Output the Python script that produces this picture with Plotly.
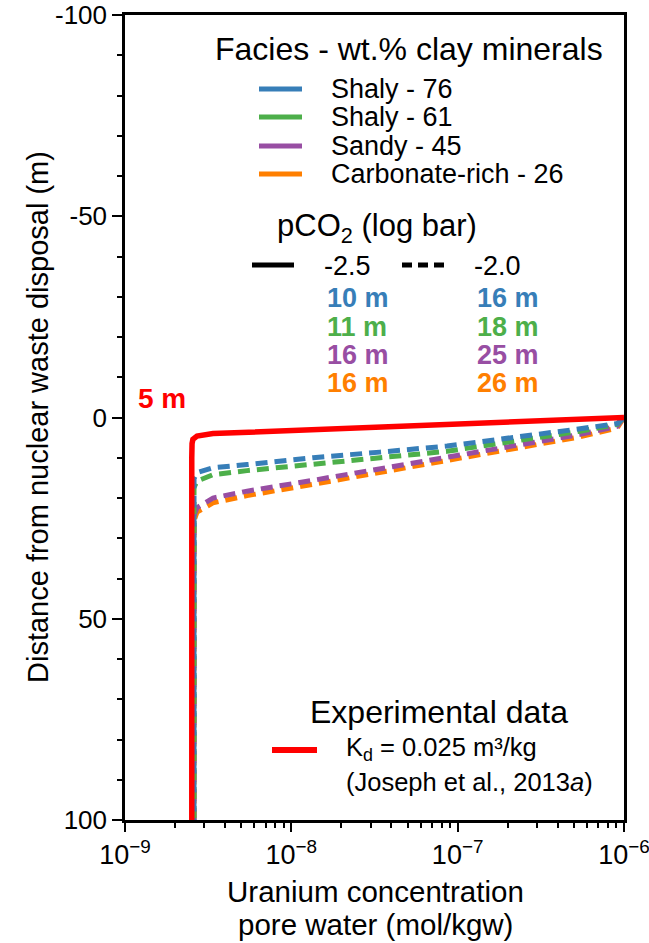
import plotly.graph_objects as go

# ---------------- data ----------------
# Experimental Kd, pCO2 = -2.5 (red solid)
red_conc = [1.0e-6, 5.4e-8, 8.55e-9, 3.38e-9, 2.71e-9, 2.56e-9, 2.53e-9, 2.52e-9, 2.52e-9]
red_depth = [0.0, 2.0, 3.1, 4.0, 4.6, 5.4, 6.5, 10.0, 100.0]

# Facies, pCO2 = -2.0 (dashed)
fac_conc = [1.0e-6, 9.1e-7, 5.45e-7, 2.15e-7, 8.63e-8, 3.41e-8, 1.35e-8, 5.42e-9, 3.38e-9, 2.71e-9, 2.60e-9, 2.60e-9]
blue_depth = [0.0, 1.5, 2.8, 5.0, 7.1, 8.6, 10.0, 11.7, 12.5, 13.7, 15.2, 100.0]
green_depth = [0.0, 1.7, 3.4, 5.9, 8.4, 10.0, 11.5, 13.2, 14.2, 15.8, 17.4, 100.0]
purple_depth = [0.0, 2.2, 4.2, 7.1, 10.0, 12.9, 15.6, 18.3, 20.0, 22.4, 24.4, 100.0]
orange_depth = [0.0, 2.6, 4.8, 7.8, 10.9, 13.9, 16.6, 19.4, 21.2, 23.5, 25.6, 100.0]

facies_names = ["Shaly - 76", "Shaly - 61", "Sandy - 45", "Carbonate-rich - 26"]
facies_colors = ["#377eb8", "#4daf4a", "#984ea3", "#ff7f00"]
dist_low = ["10 m", "11 m", "16 m", "16 m"]     # pCO2 -2.5
dist_high = ["16 m", "18 m", "25 m", "26 m"]    # pCO2 -2.0

x_tickvals = [1e-9, 1e-8, 1e-7, 1e-6]
x_ticktext = ["10<sup>\u22129</sup>", "10<sup>\u22128</sup>", "10<sup>\u22127</sup>", "10<sup>\u22126</sup>"]
x_minor_vals = [m * 10.0 ** e for e in (-9, -8, -7) for m in range(2, 10)]
y_tickvals = [-100, -50, 0, 50, 100]
y_ticktext = ["-100", "-50", "0", "50", "100"]

# ---------------- figure ----------------
W, H = 649, 943
L, R, T, B = 125, 624, 15, 820
FONT = "Liberation Sans, Arial, sans-serif"


def px(x):
    return (x - L) / (R - L)


def py(y):
    return 1 - (y - T) / (B - T)


fig = go.Figure()

dash_depths = [orange_depth, purple_depth, green_depth, blue_depth]
dash_cols = [facies_colors[3], facies_colors[2], facies_colors[1], facies_colors[0]]
for d, c in zip(dash_depths, dash_cols):
    fig.add_trace(go.Scatter(x=fac_conc, y=d, mode="lines",
                             line=dict(color=c, width=5, dash="12px,7px"),
                             showlegend=False, hoverinfo="skip"))

fig.add_trace(go.Scatter(x=red_conc, y=red_depth, mode="lines",
                         line=dict(color="#ff0000", width=5.5),
                         showlegend=False, hoverinfo="skip"))

annotations = []
shapes = []


def text(x, y, s, size, color="black", bold=False, anchor="left", angle=0):
    if bold:
        s = "<b>" + s + "</b>"
    annotations.append(dict(x=px(x), y=py(y), xref="paper", yref="paper", text=s,
                            showarrow=False, xanchor=anchor, yanchor="middle",
                            textangle=angle, borderpad=0,
                            font=dict(family=FONT, size=size, color=color)))


def hline(x0, x1, y, color, width, dash="solid"):
    shapes.append(dict(type="line", xref="paper", yref="paper",
                       x0=px(x0), x1=px(x1), y0=py(y), y1=py(y),
                       line=dict(color=color, width=width, dash=dash)))


# Facies legend
text(214, 49, "Facies - wt.% clay minerals", 32)
legend_y = [89, 117, 146, 174]
for name, col, yy in zip(facies_names, facies_colors, legend_y):
    hline(259, 302, yy, col, 5)
    text(330, yy, name, 27)

# pCO2 legend
text(276, 228, "pCO<sub>2</sub> (log bar)", 31)
hline(252, 294, 265, "black", 5)
text(323, 266, "-2.5", 27)
hline(402, 445, 265, "black", 5, "10px,6px")
text(473, 266, "-2.0", 27)
dist_y = [298, 327, 355, 383]
for dl, dh, col, yy in zip(dist_low, dist_high, facies_colors, dist_y):
    text(326, yy, dl, 27, col, True)
    text(476, yy, dh, 27, col, True)

text(137, 398, "5 m", 28, "#ff0000", True)

# Experimental legend
text(309, 712, "Experimental data", 32)
hline(272, 317, 750, "#ff0000", 6)
text(345, 749, "K<sub>d</sub> = 0.025 m\u00b3/kg", 25.5)
text(345, 782, "(Joseph et al., 2013<i>a</i>)", 25.5)

# axis titles
text(38, 417, "Distance from nuclear waste disposal (m)", 29, anchor="center", angle=-90)
text(375, 891, "Uranium concentration", 29.5, anchor="center")
text(375, 924, "pore water (mol/kgw)", 29.5, anchor="center")

fig.update_layout(
    width=W, height=H,
    margin=dict(l=L, r=W - R, t=T, b=H - B, autoexpand=False),
    paper_bgcolor="white", plot_bgcolor="white",
    showlegend=False,
    annotations=annotations, shapes=shapes,
    font=dict(family=FONT, color="black"),
)

fig.update_xaxes(
    type="log", range=[-9, -6], automargin=False,
    tickvals=x_tickvals, ticktext=x_ticktext, ticklabeloverflow="allow",
    ticks="outside", ticklen=9, tickwidth=2, tickcolor="black",
    minor=dict(tickvals=x_minor_vals, ticks="outside", ticklen=5, tickwidth=1.5,
               tickcolor="black", showgrid=False),
    showline=True, linewidth=2.5, linecolor="black", mirror=True,
    showgrid=False, zeroline=False,
    tickfont=dict(family=FONT, size=27),
)

fig.update_yaxes(
    range=[100, -100], automargin=False,
    tickvals=y_tickvals, ticktext=y_ticktext, ticklabeloverflow="allow",
    ticks="outside", ticklen=10, tickwidth=2, tickcolor="black",
    minor=dict(dtick=10, tick0=0, ticks="outside", ticklen=5, tickwidth=1.5,
               tickcolor="black", showgrid=False),
    showline=True, linewidth=2.5, linecolor="black", mirror=True,
    showgrid=False, zeroline=False,
    tickfont=dict(family=FONT, size=26),
)

fig.write_html("out.html")
